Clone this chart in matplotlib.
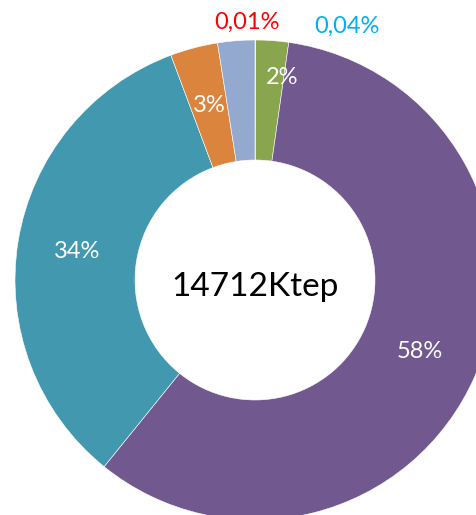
import matplotlib.pyplot as plt

# slices clockwise from 12 o'clock
shares = [0.01, 0.04, 2.2, 58.6, 33.5, 3.2, 2.5]
colors = ['#4572A7', '#AA4643', '#89A54E', '#71588F', '#4198AF', '#DB843D', '#93A9CF']
labels = ['', '', '2%', '58%', '34%', '3%', '']
small_labels = ['0,01%', '0,04%']
small_colors = ['#FF0000', '#00B0F0']
total_label = '14712Ktep'

plt.rcParams['font.family'] = ['Lato', 'DejaVu Sans']

fig = plt.figure(figsize=(4.77, 5.15), dpi=100)
ax = fig.add_axes([0, 0, 1, 1])

wedges, texts = ax.pie(shares, colors=colors, startangle=90, counterclock=False,
                       radius=1, labels=labels, labeldistance=0.75,
                       wedgeprops=dict(width=0.5, edgecolor='white', linewidth=0.4),
                       textprops=dict(color='white', fontsize=17, ha='center', va='center'))
for t in texts:
    t.set_horizontalalignment('center')
# the 2% label sits a bit further out, as in the original
texts[2].set_position((0.1125, 0.842))

# outside labels for the two tiny slices
ax.text(-0.033, 1.075, small_labels[0], color=small_colors[0], fontsize=17,
        ha='center', va='center')
ax.text(0.383, 1.058, small_labels[1], color=small_colors[1], fontsize=17,
        ha='center', va='center')

ax.text(0, -0.03, total_label, fontsize=24, ha='center', va='center', color='black')

ax.set_xlim(-255 / 240, 222 / 240)
ax.set_ylim(-235 / 240, 280 / 240)
ax.set_aspect('auto')
ax.axis('off')

fig.savefig('out.png', dpi=100)
